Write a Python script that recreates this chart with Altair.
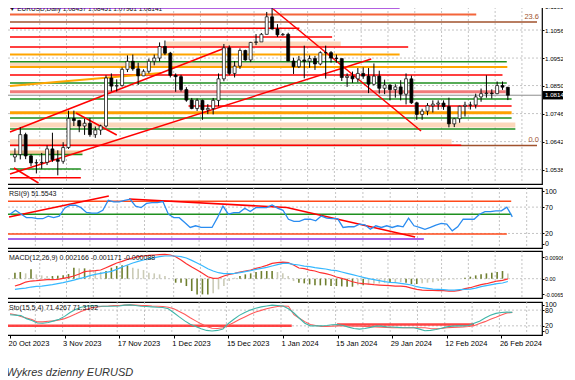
import altair as alt
import pandas as pd

# ---------------- data ----------------
label_bars = [0, 10, 20, 30, 40, 50, 60, 70, 80, 90]
label_text = ["20 Oct 2023", "3 Nov 2023", "17 Nov 2023", "1 Dec 2023", "15 Dec 2023",
              "1 Jan 2024", "15 Jan 2024", "29 Jan 2024", "12 Feb 2024", "26 Feb 2024"]
grid_bars = [5, 10, 15, 20, 25, 30, 35, 40, 45, 50, 55, 60, 65, 70, 75, 80, 85, 90, 95]

opens = [1.0585, 1.0594, 1.0668, 1.0589, 1.0563, 1.0564, 1.0565, 1.0615, 1.0575, 1.0569,
         1.0620, 1.0728, 1.0720, 1.0700, 1.0710, 1.0668, 1.0685, 1.0700, 1.0878, 1.0848,
         1.0850, 1.0910, 1.0940, 1.0912, 1.0886, 1.0903, 1.0940, 1.0952, 1.0995, 1.0970,
         1.0888, 1.0883, 1.0835, 1.0796, 1.0765, 1.0795, 1.0760, 1.0765, 1.0795, 1.0875,
         1.0990, 1.0895, 1.0922, 1.0980, 1.0945, 1.1010, 1.1012, 1.1040, 1.1105, 1.1060,
         1.1038, 1.1040, 1.0941, 1.0920, 1.0945, 1.0940, 1.0950, 1.0930, 1.0972, 1.0972,
         1.0952, 1.0950, 1.0880, 1.0885, 1.0875, 1.0895, 1.0885, 1.0855, 1.0885, 1.0840,
         1.0852, 1.0835, 1.0845, 1.0818, 1.0875, 1.0786, 1.0743, 1.0755, 1.0775, 1.0781,
         1.0785, 1.0772, 1.0708, 1.0727, 1.0773, 1.0777, 1.0778, 1.0808, 1.0820, 1.0822,
         1.0820, 1.0850, 1.08437]
highs = [1.0617, 1.0695, 1.0675, 1.0595, 1.0576, 1.0600, 1.0628, 1.0675, 1.0610, 1.0640,
         1.0757, 1.0757, 1.0723, 1.0727, 1.0730, 1.0698, 1.0705, 1.0888, 1.0895, 1.0873,
         1.0917, 1.0962, 1.0965, 1.0935, 1.0910, 1.0950, 1.0965, 1.1010, 1.1017, 1.0975,
         1.0895, 1.0890, 1.0844, 1.0804, 1.0802, 1.0798, 1.0781, 1.0804, 1.0895, 1.1004,
         1.0999, 1.0940, 1.0988, 1.0983, 1.1012, 1.1041, 1.1045, 1.1123, 1.1139, 1.1078,
         1.1045, 1.1046, 1.0953, 1.0960, 1.0998, 1.0962, 1.0960, 1.0977, 1.0998, 1.0978,
         1.0965, 1.0950, 1.0895, 1.0902, 1.0915, 1.0917, 1.0915, 1.0932, 1.0905, 1.0872,
         1.0855, 1.0855, 1.0870, 1.0895, 1.0887, 1.0790, 1.0764, 1.0785, 1.0795, 1.0795,
         1.0795, 1.0805, 1.0730, 1.0775, 1.0790, 1.0790, 1.0820, 1.0839, 1.0888, 1.0836,
         1.0865, 1.0865, 1.08451]
lows = [1.0566, 1.0576, 1.0577, 1.0551, 1.0524, 1.0541, 1.0555, 1.0567, 1.0517, 1.0560,
        1.0615, 1.0700, 1.0677, 1.0667, 1.0660, 1.0656, 1.0667, 1.0694, 1.0828, 1.0828,
        1.0846, 1.0900, 1.0905, 1.0852, 1.0885, 1.0895, 1.0925, 1.0940, 1.0963, 1.0880,
        1.0827, 1.0828, 1.0790, 1.0762, 1.0756, 1.0723, 1.0744, 1.0743, 1.0773, 1.0866,
        1.0888, 1.0880, 1.0912, 1.0942, 1.0937, 1.1000, 1.1012, 1.1040, 1.1058, 1.1030,
        1.1035, 1.0940, 1.0893, 1.0915, 1.0877, 1.0916, 1.0908, 1.0925, 1.0876, 1.0935,
        1.0935, 1.0867, 1.0845, 1.0860, 1.0862, 1.0875, 1.0822, 1.0850, 1.0820, 1.0818,
        1.0795, 1.0805, 1.0795, 1.0780, 1.0782, 1.0723, 1.0723, 1.0740, 1.0750, 1.0760,
        1.0760, 1.0695, 1.0696, 1.0712, 1.0735, 1.0761, 1.0765, 1.0790, 1.0805, 1.0802,
        1.0818, 1.0834, 1.07961]
closes = [1.0594, 1.0668, 1.0589, 1.0563, 1.0564, 1.0565, 1.0615, 1.0575, 1.0569, 1.0620,
          1.0728, 1.0720, 1.0700, 1.0710, 1.0668, 1.0685, 1.0700, 1.0878, 1.0848, 1.0850,
          1.0910, 1.0940, 1.0912, 1.0886, 1.0903, 1.0940, 1.0952, 1.0995, 1.0970, 1.0888,
          1.0883, 1.0835, 1.0796, 1.0765, 1.0795, 1.0760, 1.0765, 1.0795, 1.0875, 1.0990,
          1.0895, 1.0922, 1.0980, 1.0945, 1.1010, 1.1012, 1.1040, 1.1105, 1.1060, 1.1038,
          1.1040, 1.0941, 1.0920, 1.0945, 1.0940, 1.0950, 1.0930, 1.0972, 1.0972, 1.0952,
          1.0950, 1.0880, 1.0885, 1.0875, 1.0895, 1.0885, 1.0855, 1.0885, 1.0840, 1.0852,
          1.0835, 1.0845, 1.0818, 1.0875, 1.0786, 1.0743, 1.0755, 1.0775, 1.0781, 1.0785,
          1.0772, 1.0708, 1.0727, 1.0773, 1.0777, 1.0778, 1.0808, 1.0820, 1.0822, 1.0820,
          1.0850, 1.0844, 1.08141]

rsi = [56.6, 64, 57, 50, 50, 48, 48, 53, 50, 53,
       68, 73.6, 73.6, 69, 60, 58.5, 58.5, 64, 83, 80,
       80, 83, 85, 72, 69, 77, 78.6, 78.6, 80.5, 56.6,
       50, 50, 41, 31.4, 34.6, 31.4, 31.4, 31.4, 50, 72,
       56.6, 59.7, 59.7, 68, 61.6, 69, 69, 69, 74, 68,
       64, 47, 43, 43, 47, 47, 44, 53, 49, 48,
       48, 31.4, 32.7, 32.7, 37.7, 36.5, 28, 34.6, 31.4, 34.6,
       31.4, 34.6, 32.7, 49, 34.6, 31.4, 28, 31.4, 36, 39,
       37.7, 25, 32.7, 47, 47, 47, 56.6, 61.6, 61.6, 63,
       63, 70, 51.55]

macd_hist = [0.00255, 0.00283, 0.00227, 0.00397, 0.00184, 0.00142, 0.00113, 0.00113, 0.00128, 0.00142,
             0.00198, 0.00468, 0.00439, 0.00439, 0.00397, 0.00326, 0.00283, 0.00326, 0.00468, 0.00538,
             0.00567, 0.00567, 0.00468, 0.00425, 0.00368, 0.00255, 0.00227, 0.00184, 0.00113, 0.0,
             -0.0017, -0.0017, -0.00312, -0.00524, -0.00666, -0.00666, -0.00666, -0.00623, -0.00453, -0.00312,
             -0.00099, 0.00043, 0.00113, 0.00184, 0.00227, 0.00283, 0.00326, 0.00326, 0.00326, 0.00283,
             0.00227, 0.00113, -0.001, -0.0017, -0.00198, -0.00241, -0.00283, -0.00283, -0.00283, -0.00312,
             -0.00312, -0.00326, -0.0034, -0.0034, -0.00283, -0.00283, -0.00255, -0.00213, -0.00198, -0.0017,
             -0.0017, -0.00156, -0.00142, -0.0017, -0.00227, -0.00227, -0.00198, -0.0017, -0.00156, -0.00099,
             -0.00071, -0.00043, -0.00028, 0.0, 0.00043, 0.00085, 0.00142, 0.00184, 0.00227, 0.00255,
             0.00283, 0.00326, 0.00217]
macd_red = [-0.00312, -0.00241, -0.00142, -0.00099, -0.00085, -0.00057, -0.00043, -0.00043, -0.00028, 0.00014,
            0.00057, 0.00113, 0.00198, 0.00298, 0.00326, 0.0034, 0.00368, 0.00468, 0.00567, 0.00666,
            0.00737, 0.00822, 0.00879, 0.00935, 0.00964, 0.00992, 0.01006, 0.0102, 0.01034, 0.01006,
            0.00935, 0.00794, 0.00638, 0.00496, 0.00368, 0.00227, 0.00085, 0.00014, 0.00028, 0.00113,
            0.00184, 0.00227, 0.00283, 0.00326, 0.00368, 0.00439, 0.00496, 0.00567, 0.00652, 0.0068,
            0.00708, 0.0068, 0.0058, 0.00453, 0.00425, 0.00368, 0.00326, 0.00255, 0.00213, 0.00156,
            0.00071, 0.00014, -0.00057, -0.00128, -0.00184, -0.00213, -0.00227, -0.00255, -0.00269, -0.00283,
            -0.00298, -0.00312, -0.00312, -0.0034, -0.00397, -0.00453, -0.00482, -0.00496, -0.00496, -0.0051,
            -0.0051, -0.00524, -0.00524, -0.00496, -0.00425, -0.00383, -0.00312, -0.00255, -0.00213, -0.00156,
            -0.00099, -0.00071, -0.00009]
macd_blue = [-0.00453, -0.00425, -0.00397, -0.00354, -0.00326, -0.00312, -0.00283, -0.00255, -0.00213, -0.0017,
             -0.00113, -0.00057, 0.0, 0.00057, 0.00128, 0.00184, 0.00227, 0.00269, 0.00312, 0.00397,
             0.00496, 0.00581, 0.00666, 0.00737, 0.00794, 0.0085, 0.00893, 0.00935, 0.00964, 0.00964,
             0.00964, 0.00935, 0.00879, 0.00779, 0.00666, 0.00553, 0.00425, 0.00326, 0.00255, 0.00213,
             0.00213, 0.00227, 0.00255, 0.00298, 0.0034, 0.00397, 0.00439, 0.00482, 0.00538, 0.00595,
             0.00652, 0.00652, 0.0061, 0.00581, 0.00538, 0.0051, 0.00468, 0.00439, 0.00411, 0.00368,
             0.0034, 0.00283, 0.00227, 0.0017, 0.00113, 0.00057, 0.0, -0.00043, -0.00085, -0.00128,
             -0.00156, -0.0017, -0.00198, -0.00227, -0.00269, -0.0034, -0.00383, -0.00411, -0.00439, -0.00453,
             -0.00468, -0.00482, -0.00482, -0.00468, -0.00453, -0.00439, -0.00397, -0.0034, -0.00298, -0.00255,
             -0.00213, -0.00184, -0.00117]

sto_main = [62.5, 61, 59, 47.5, 40, 31, 30, 32.5, 39, 45,
            56, 71, 82.5, 91, 95, 97.5, 96, 95, 95, 95,
            96, 99, 100, 97.5, 95, 94, 92.5, 91, 90, 85,
            70, 54, 39, 26, 17.5, 9, 2.5, 0, 2.5, 7.5,
            29, 45, 60, 71, 80, 87.5, 92.5, 96, 99, 97.5,
            96, 85, 69, 49, 30, 20, 20, 20, 21, 24,
            25, 21, 15, 10, 7.5, 10, 14, 19, 19, 16,
            15.6, 14, 12.5, 12.5, 12.5, 7.5, 1, 2.5, 6, 11,
            16, 19, 20, 20, 21, 30, 37.5, 50, 60, 67.5,
            71, 72.5, 71.43]
sto_signal = [66, 62.5, 56, 50, 44, 35, 35, 37.5, 39, 42.5,
              47.5, 56, 65, 75, 82.5, 89, 92.5, 95, 96, 97.5,
              97.5, 99, 100, 99, 97.5, 97.5, 96, 95, 94, 91,
              85, 75, 64, 51, 39, 27.5, 17.5, 11, 10, 12.5,
              22.5, 32.5, 44, 54, 64, 72.5, 79, 85, 90, 94,
              96, 95, 62.5, 49, 36, 25, 21, 17.5, 17.5, 19,
              20, 20, 20, 19, 19, 17.5, 17, 16, 15, 14,
              12.5, 12.5, 12.5, 12.5, 12.5, 12.5, 12.5, 10, 9, 10,
              12.5, 14, 15, 16, 17.5, 20, 29, 36, 45, 52.5,
              61, 69, 71.32]

# horizontal support / resistance objects on the price chart
sr_price = [1.11377, 1.11136, 1.10858, 1.10624, 1.10302, 1.10042, 1.09931, 1.09652, 1.09385, 1.09263,
            1.09189, 1.08892, 1.08595, 1.08272, 1.08001, 1.07742, 1.07493, 1.07296, 1.07037, 1.06888,
            1.06417, 1.0628, 1.06284, 1.06016, 1.05942, 1.05404, 1.05081]
sr_from = [-0.92, -0.92, -0.92, -0.92, -0.92, 28.2, -0.92, -0.92, -0.92, -0.92,
           -0.92, -0.92, -0.92, -0.92, -0.92, 32.4, -0.92, -0.92, -0.92, -0.92,
           -0.92, -0.92, -0.92, -0.92, -0.92, -0.92, -0.92]
sr_to = [71.8, 86.1, 97.44, 53.1, 59.2, 60.8, 73.4, 71.8, 91.8, 51.6,
         91.9, 91.0, 91.8, 91.6, 92.7, 92.7, 92.7, 92.7, 93.4, 93.4,
         81.5, 97.44, 83.3, 12.6, 12.6, 12.3, 12.3]
sr_kind = ["purple", "orangered", "brown", "red", "red", "band", "red", "orange", "green", "band",
           "orange", "red", "green", "pinkred", "green", "red", "orangethick", "green", "band", "green",
           "band", "brown", "red", "peach", "green", "green", "red"]

# trendlines on the price chart (two points each)
tl_id = ["a", "a", "b", "b", "c", "c", "d", "d", "e", "e", "f", "f"]
tl_bar = [-0.92, 39.2, -0.92, 66.5, 48.2, 75.8, 11.4, 19.0, -0.18, 4.4, -0.92, 27.3]
tl_price = [1.06777, 1.09893, 1.05219, 1.09485, 1.11340, 1.06814, 1.07482, 1.06666,
            1.05441, 1.04885, 1.08484, 1.08966]
tl_kind = ["red", "red", "red", "red", "red", "red", "red", "red", "red", "red", "orange", "orange"]

price_ticks = [1.116, 1.1056, 1.0952, 1.085, 1.0746, 1.0642, 1.0538]
price_tick_text = ["1.11600", "1.10560", "1.09520", "1.08500", "1.07460", "1.06420", "1.05380"]
last_price = 1.08141
fib_price = [1.10858, 1.0628]
fib_text = ["23.6", "0.0"]

rsi_lv_value = [81.1, 56.6, 18.9, 9.4]
rsi_lv_from = [-0.92, -0.92, -0.92, -0.92]
rsi_lv_to = [91.8, 91.8, 91.0, 75.8]
rsi_lv_kind = ["orangered", "green", "orangered", "purple"]
rsi_tl_id = ["t1", "t1", "t2", "t2", "t2"]
rsi_tl_bar = [-0.18, 18.1, 21.8, 50.7, 74.2]
rsi_tl_value = [51.2, 91.1, 85.4, 69.3, 13.3]
rsi_ticks = [100, 70, 20, 0]
rsi_grid = [70, 20]

macd_ticks = [0.009067, 0.0, -0.006536]
macd_tick_text = ["0.009067", "0.00", "-0.006536"]
sto_ticks = [100, 80, 20, 0]
sto_grid = [80, 20]
sto_lv_value = [20, 25]
sto_lv_from = [-0.92, 59.9]
sto_lv_to = [51.6, 85.0]

header_main = "\u25bc EURUSD,Daily  1.08437 1.08451 1.07961 1.08141"
header_rsi = "RSI(9) 51.5543"
header_macd = "MACD(12,26,9) 0.002166 -0.001171 -0.000088"
header_sto = "Sto(15,5,4) 71.4267 71.3192"
caption = "Wykres dzienny EURUSD"

# ---------------- chart ----------------
N = len(closes)
for arr in (opens, highs, lows, rsi, macd_hist, macd_red, macd_blue, sto_main, sto_signal):
    assert len(arr) == N

bars = list(range(N))
FONT = "Liberation Sans"
GRID = "#b5b5b5"
W = 537
XMIN, XMAX = -0.92, 97.44
XS = alt.Scale(domain=[XMIN, XMAX], nice=False, zero=False)
YP = alt.Scale(domain=[1.04848, 1.11711], nice=False, zero=False)
YR = alt.Scale(domain=[-7.6, 106.3], nice=False, zero=False)
YM = alt.Scale(domain=[-0.0082, 0.01177], nice=False, zero=False)
YS = alt.Scale(domain=[-15, 111], nice=False, zero=False)

STYLE = {
    "purple": ("#b25fe0", 2.2),
    "orangered": ("#f4653a", 2.0),
    "brown": ("#a0522d", 1.5),
    "red": ("#ff0000", 1.5),
    "band": ("#fcd7bb", 5.0),
    "peach": ("#f9c59a", 4.0),
    "orange": ("#ffa500", 2.0),
    "orangethick": ("#ffa000", 3.0),
    "green": ("#1f8f1f", 1.5),
    "pinkred": ("#f27a7a", 3.0),
}


def lab_expr(vals, labs):
    s = "''"
    for v, l in zip(reversed(vals), reversed(labs)):
        s = f"datum.value == {v} ? '{l}' : ({s})"
    return s


def right_axis(values, labels=None, top_shift=None, size=7):
    kw = dict(orient="right", values=values, grid=False, domain=False, ticks=True, tickSize=2,
              tickColor="black", labelFont=FONT, labelFontSize=size, labelColor="black",
              labelPadding=0.5, labelOverlap=False, title=None)
    if labels is not None:
        kw["labelExpr"] = lab_expr(values, labels)
    if top_shift is not None:
        kw["labelOffset"] = {"condition": {"test": f"datum.value == {values[0]}", "value": top_shift},
                             "value": 0}
    return alt.Axis(**kw)


def panel(ys, yaxis, xaxis):
    """helpers that share the same scale and axis definition in every layer of a panel"""
    def X(field):
        return alt.X(field, type="quantitative", scale=XS, axis=xaxis)

    def Y(field):
        return alt.Y(field, type="quantitative", scale=ys, axis=yaxis)

    def vgrid():
        return alt.Chart(pd.DataFrame({"g": grid_bars})).mark_rule(
            color=GRID, strokeDash=[2, 2], strokeWidth=0.8, xOffset=-2).encode(x=X("g"))

    def hgrid(values):
        return alt.Chart(pd.DataFrame({"v": values})).mark_rule(
            color=GRID, strokeDash=[2, 2], strokeWidth=0.8).encode(y=Y("v"))

    def level(df, color, width, opacity=1.0):
        return alt.Chart(df).mark_rule(color=color, strokeWidth=width, opacity=opacity).encode(
            x=X("x0"), x2="x1", y=Y("v"))

    def header(text, y, size=7):
        return alt.Chart(pd.DataFrame({"t": [text]})).mark_text(
            align="left", baseline="middle", font=FONT, fontSize=size, color="#111111"
        ).encode(x=alt.value(4), y=alt.value(y), text="t:N")

    return X, Y, vgrid, hgrid, level, header


# ---- main price panel ----
price_axis = right_axis(price_ticks, price_tick_text, top_shift=5, size=6.2)
X, Y, vgrid, hgrid, level, header = panel(YP, price_axis, None)
candles = pd.DataFrame({"i": bars, "o": opens, "h": highs, "l": lows, "c": closes})
sr = pd.DataFrame({"v": sr_price, "x0": sr_from, "x1": sr_to, "kind": sr_kind})
tl = pd.DataFrame({"id": tl_id, "i": tl_bar, "p": tl_price, "kind": tl_kind})

main_layers = [vgrid(), hgrid(price_ticks)]
for k in ["band", "peach", "brown", "purple", "orangered", "pinkred", "orangethick", "orange", "green", "red"]:
    col, w = STYLE[k]
    main_layers.append(level(sr[sr.kind == k], col, w))
main_layers.append(
    alt.Chart(pd.DataFrame({"p": [last_price]})).mark_rule(color="#8c8c8c", strokeWidth=1)
    .encode(y=Y("p")))
for k, col, w in [("orange", "#ffa500", 2.0), ("red", "#ff0000", 1.5)]:
    main_layers.append(
        alt.Chart(tl[tl.kind == k]).mark_line(color=col, strokeWidth=w, clip=True).encode(
            x=X("i"), y=Y("p"), detail="id:N"))
main_layers.append(
    alt.Chart(candles).mark_rule(color="black", strokeWidth=1).encode(x=X("i"), y=Y("l"), y2="h"))
main_layers.append(
    alt.Chart(candles).mark_bar(size=3, stroke="black", strokeWidth=0.7).encode(
        x=X("i"), y=Y("o"), y2="c",
        fill=alt.condition("datum.c >= datum.o", alt.value("white"), alt.value("black"))))
main_layers.append(
    alt.Chart(pd.DataFrame({"p": fib_price, "t": fib_text})).mark_text(
        align="right", baseline="bottom", font=FONT, fontSize=7.5, color="#a0522d", dy=-1
    ).encode(x=alt.value(534), y=Y("p"), text="t:N"))
main_layers.append(
    alt.Chart(pd.DataFrame({"p": [last_price]})).mark_point(
        shape="M-1,-0.3L1,-0.3L1,0.3L-1,0.3Z", size=784, filled=True, color="black", opacity=1
    ).encode(x=alt.value(552), y=Y("p")))
main_layers.append(
    alt.Chart(pd.DataFrame({"p": [last_price], "t": ["1.08141"]})).mark_text(
        align="left", baseline="middle", font=FONT, fontSize=6.2, color="white"
    ).encode(x=alt.value(540), y=Y("p"), text="t:N"))
main_layers.append(header(header_main, 10, 6.5))
main = alt.layer(*main_layers).properties(width=W, height=185)

# ---- RSI panel ----
X, Y, vgrid, hgrid, level, header = panel(YR, right_axis(rsi_ticks), None)
rsi_df = pd.DataFrame({"i": bars, "r": rsi})
rlv = pd.DataFrame({"v": rsi_lv_value, "x0": rsi_lv_from, "x1": rsi_lv_to, "kind": rsi_lv_kind})
rtl = pd.DataFrame({"id": rsi_tl_id, "i": rsi_tl_bar, "r": rsi_tl_value})
rsi_layers = [vgrid(), hgrid(rsi_grid),
              level(rlv[rlv.kind == "orangered"], "#ff4a1a", 1.5),
              level(rlv[rlv.kind == "green"], "#1f8f1f", 1.5),
              level(rlv[rlv.kind == "purple"], "#8a2be2", 1.5),
              alt.Chart(rtl).mark_line(color="#ff0000", strokeWidth=1.6, clip=True).encode(
                  x=X("i"), y=Y("r"), detail="id:N"),
              alt.Chart(rsi_df).mark_line(color="#2a8cf0", strokeWidth=1.3).encode(x=X("i"), y=Y("r")),
              header(header_rsi, 6)]
rsi_panel = alt.layer(*rsi_layers).properties(width=W, height=60)

# ---- MACD panel ----
X, Y, vgrid, hgrid, level, header = panel(YM, right_axis(macd_ticks, macd_tick_text, size=5.4), None)
hist_dir = ["up"] + ["up" if abs(macd_hist[k]) >= abs(macd_hist[k - 1]) else "down" for k in range(1, N)]
macd_df = pd.DataFrame({"i": bars, "h": macd_hist, "z": [0.0] * N, "d": hist_dir,
                        "red": macd_red, "blue": macd_blue})
macd_layers = [vgrid(), hgrid([0.0]),
               alt.Chart(macd_df).mark_bar(size=1.6).encode(
                   x=X("i"), y=Y("h"), y2="z",
                   fill=alt.Fill("d:N", scale=alt.Scale(domain=["up", "down"],
                                                        range=["#6f7f2f", "#cbcbb6"]), legend=None)),
               alt.Chart(macd_df).mark_line(color="#ff3030", strokeWidth=1.2).encode(x=X("i"), y=Y("red")),
               alt.Chart(macd_df).mark_line(color="#36b8ff", strokeWidth=1.2).encode(x=X("i"), y=Y("blue")),
               header(header_macd, 7)]
macd_panel = alt.layer(*macd_layers).properties(width=W, height=47)

# ---- Stochastic panel ----
x_axis = alt.Axis(values=label_bars, labelExpr=lab_expr(label_bars, label_text), orient="bottom",
                  grid=False, domain=False, ticks=True, tickSize=3, tickColor="black",
                  labelAlign="left", labelFont=FONT, labelFontSize=7.5, labelColor="black",
                  labelPadding=1, labelOffset=-2, labelFlush=False, labelOverlap=False, title=None)
X, Y, vgrid, hgrid, level, header = panel(YS, right_axis(sto_ticks), x_axis)
sto_df = pd.DataFrame({"i": bars, "m": sto_main, "s": sto_signal})
slv = pd.DataFrame({"v": sto_lv_value, "x0": sto_lv_from, "x1": sto_lv_to})
sto_layers = [vgrid(), hgrid(sto_grid),
              level(slv, "#ff3030", 2.5, 0.9),
              alt.Chart(sto_df).mark_line(color="#ff5a5a", strokeWidth=1.1).encode(x=X("i"), y=Y("s")),
              alt.Chart(sto_df).mark_line(color="#3fb5a8", strokeWidth=1.1).encode(x=X("i"), y=Y("m")),
              header(header_sto, 6)]
sto_panel = alt.layer(*sto_layers).properties(width=W, height=33)

chart = alt.vconcat(main, rsi_panel, macd_panel, sto_panel, spacing=1).properties(
    title=alt.TitleParams(caption, orient="bottom", anchor="start", font=FONT, fontSize=11,
                          fontStyle="italic", fontWeight="normal", color="#333333", offset=20, dx=3),
    padding={"left": -5, "top": -10, "right": -9, "bottom": 0},
    background="white",
).configure_view(stroke="black", strokeWidth=1.2)

chart.save("out.html", embed_options={"renderer": "svg", "actions": False})
